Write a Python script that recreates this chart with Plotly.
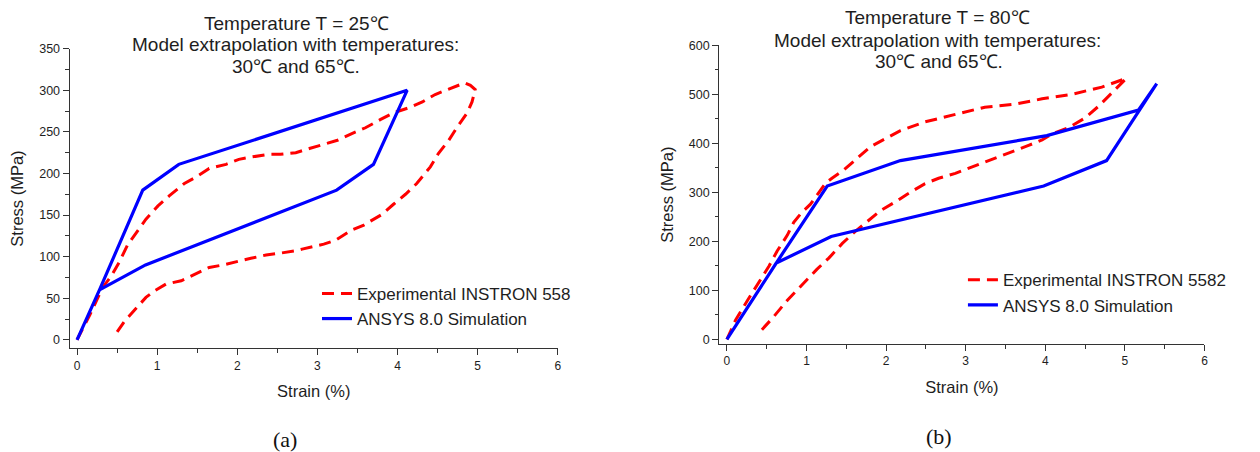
import plotly.graph_objects as go

# ---------------- data: panel (a) T = 25 C ----------------
exp25_strain = [0, 0.16, 0.32, 0.43, 0.53, 0.63, 0.86, 1.01, 1.15, 1.34, 1.49, 1.65, 1.86, 2.02,
                2.19, 2.40, 2.54, 2.73, 2.90, 3.10, 3.25, 3.43, 3.60, 3.79, 3.95, 4.14, 4.31,
                4.47, 4.64, 4.84, 4.91, 4.97, 4.93, 4.87, 4.74, 4.64, 4.51, 4.41, 4.24, 4.10,
                3.95, 3.81, 3.58, 3.43, 3.23, 3.08, 2.81, 2.73, 2.52, 2.36, 2.17, 2.00, 1.82,
                1.65, 1.46, 1.30, 1.11, 0.97, 0.86, 0.76, 0.59, 0.49]
exp25_stress = [0, 30, 63, 77, 94, 114, 145, 161, 173, 188, 196, 206, 211, 217,
                220, 223, 223, 225, 230, 236, 240, 248, 255, 265, 273, 279, 286,
                295, 301, 309, 306, 301, 286, 273, 255, 240, 224, 208, 188, 175,
                163, 151, 138, 132, 120, 115, 109, 107, 104, 102, 98, 94, 90,
                87, 78, 71, 67, 59, 51, 40, 22, 8]
sim25_strain = [0, 0.28, 0.82, 1.27, 4.12, 3.70, 3.24, 0.855, 0.28, 0]
sim25_stress = [0, 60, 180, 211, 300, 211, 180, 90, 60, 0]

# ---------------- data: panel (b) T = 80 C ----------------
exp80_strain = [0, 0.11, 0.26, 0.53, 0.63, 0.76, 0.84, 0.94, 1.05, 1.15, 1.24, 1.32, 1.47,
                1.80, 2.18, 2.49, 2.87, 3.24, 3.62, 3.96, 4.33, 4.71, 5.02,
                4.81, 4.67, 4.50, 4.29, 4.08, 3.96, 3.79, 3.58, 3.37, 3.20, 3.04, 2.87,
                2.66, 2.49, 2.26, 2.14, 1.93, 1.78, 1.61, 1.45, 1.28, 1.13, 0.94, 0.76,
                0.57, 0.44]
exp80_stress = [0, 40, 80, 150, 180, 213, 239, 259, 276, 299, 319, 329, 346,
                393, 426, 444, 459, 474, 480, 491, 500, 515, 533,
                499, 476, 452, 432, 419, 407, 396, 383, 369, 359, 349, 339,
                329, 318, 296, 283, 263, 243, 220, 196, 166, 143, 110, 80,
                43, 20]
sim80_strain = [0, 0.62, 1.26, 2.18, 4.02, 5.17, 5.40, 4.77, 3.98, 1.31, 0.62, 0]
sim80_stress = [0, 156, 313, 365, 416, 468, 522, 365, 313, 210, 156, 0]

x_ticks = [0, 1, 2, 3, 4, 5, 6]
y_ticks_a = [0, 50, 100, 150, 200, 250, 300, 350]
y_ticks_b = [0, 100, 200, 300, 400, 500, 600]

titles_a = ["Temperature T = 25℃", "Model extrapolation with temperatures:", "30℃ and 65℃."]
titles_b = ["Temperature T = 80℃", "Model extrapolation with temperatures:", "30℃ and 65℃."]
legend_a = ["Experimental INSTRON 558", "ANSYS 8.0 Simulation"]
legend_b = ["Experimental INSTRON 5582", "ANSYS 8.0 Simulation"]

# ---------------- figure ----------------
W, H = 1260, 452
RED, BLUE = "#FF0000", "#0000FF"
DASH = "12px,7px"
FONT = "Arial, 'Liberation Sans', Helvetica, sans-serif"
TXT = "#1e1e1e"
AX = "#333333"

fig = go.Figure()
fig.add_trace(go.Scatter(x=exp25_strain, y=exp25_stress, mode="lines", name=legend_a[0],
                         line=dict(color=RED, width=3, dash=DASH), xaxis="x", yaxis="y",
                         legend="legend"))
fig.add_trace(go.Scatter(x=sim25_strain, y=sim25_stress, mode="lines", name=legend_a[1],
                         line=dict(color=BLUE, width=3.2), xaxis="x", yaxis="y",
                         legend="legend"))
fig.add_trace(go.Scatter(x=exp80_strain, y=exp80_stress, mode="lines", name=legend_b[0],
                         line=dict(color=RED, width=3, dash=DASH), xaxis="x2", yaxis="y2",
                         legend="legend2"))
fig.add_trace(go.Scatter(x=sim80_strain, y=sim80_stress, mode="lines", name=legend_b[1],
                         line=dict(color=BLUE, width=3.2), xaxis="x2", yaxis="y2",
                         legend="legend2"))


def px_x(p):
    return p / W


def px_y(p):
    return 1 - p / H


def xaxis_cfg(dom, rng):
    return dict(domain=dom, range=rng, tickvals=x_ticks, ticks="outside", ticklen=6,
                tickwidth=1.2, tickcolor=AX, showline=True, linecolor=AX, linewidth=1.4,
                showgrid=False, zeroline=False, tickfont=dict(size=12, color=TXT),
                minor=dict(ticks="outside", dtick=0.5, ticklen=3.5, tickwidth=1.2, tickcolor=AX),
                title=dict(text="Strain (%)", font=dict(size=16.5, color=TXT), standoff=13))


def yaxis_cfg(dom, rng, ticks, minor, anchor):
    return dict(domain=dom, range=rng, tickvals=ticks, ticks="outside", ticklen=6,
                tickwidth=1.2, tickcolor=AX, showline=True, linecolor=AX, linewidth=1.4,
                showgrid=False, zeroline=False, tickfont=dict(size=12.5, color=TXT),
                minor=dict(ticks="outside", dtick=minor, ticklen=3.5, tickwidth=1.2, tickcolor=AX),
                anchor=anchor,
                title=dict(text="Stress (MPa)", font=dict(size=16.5, color=TXT), standoff=11))


xa = xaxis_cfg([px_x(70), px_x(559.5)], [-0.0908, 6])
xa["anchor"] = "y"
xb = xaxis_cfg([px_x(721.7), px_x(1208.3)], [-0.094, 6])
xb["anchor"] = "y2"
ya = yaxis_cfg([px_y(349), px_y(42.7)], [-10.2, 350], y_ticks_a, 25, "x")
yb = yaxis_cfg([px_y(344.5), px_y(39.3)], [-9, 600], y_ticks_b, 50, "x2")

annotations = []
for txt, cx, cy in zip(titles_a, [297, 296, 297], [17.2, 38.8, 60.8]):
    annotations.append(dict(text=txt, x=px_x(cx), y=px_y(cy), xref="paper", yref="paper",
                            xanchor="center", yanchor="middle", showarrow=False,
                            font=dict(size=19, color=TXT, family=FONT)))
for txt, cx, cy in zip(titles_b, [940, 940, 942], [11.2, 33.8, 56.2]):
    annotations.append(dict(text=txt, x=px_x(cx), y=px_y(cy), xref="paper", yref="paper",
                            xanchor="center", yanchor="middle", showarrow=False,
                            font=dict(size=19, color=TXT, family=FONT)))
for txt, cx, cy in [("(a)", 286, 442), ("(b)", 941.7, 439)]:
    annotations.append(dict(text=txt, x=px_x(cx), y=px_y(cy), xref="paper", yref="paper",
                            xanchor="center", yanchor="middle", showarrow=False,
                            font=dict(size=22, color="#111", family="'Liberation Serif', 'Times New Roman', serif")))

leg_common = dict(xanchor="left", yanchor="top", bgcolor="rgba(0,0,0,0)", borderwidth=0,
                  font=dict(size=17, color=TXT, family=FONT), tracegroupgap=0)

fig.update_layout(
    width=W, height=H, margin=dict(l=0, r=0, t=0, b=0),
    paper_bgcolor="white", plot_bgcolor="white",
    font=dict(family=FONT, color=TXT),
    xaxis=xa, yaxis=ya, xaxis2=xb, yaxis2=yb,
    showlegend=True,
    legend=dict(x=px_x(318), y=px_y(275), **leg_common),
    legend2=dict(x=px_x(966), y=px_y(261), **leg_common),
    annotations=annotations,
)

fig.write_html("out.html", config={"displayModeBar": False},
               post_script="document.body.style.margin='0';")
